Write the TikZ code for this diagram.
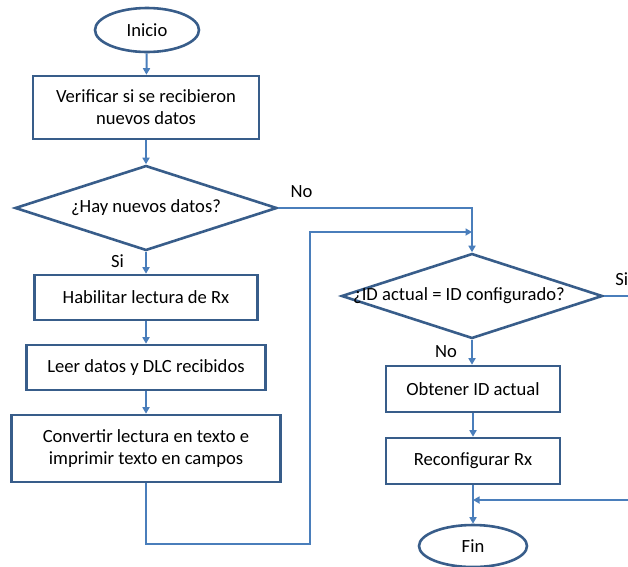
\documentclass[tikz,border=0pt]{standalone}
\usepackage{fontspec}
\setmainfont{Carlito}
\usetikzlibrary{shapes.geometric,arrows.meta}
\definecolor{bord}{HTML}{385D8A}
\definecolor{conn}{HTML}{4A7EBB}
\tikzset{
  every node/.style={font=\fontsize{18.6}{22}\selectfont, text=black},
  box/.style={draw=bord, line width=2.6pt, rectangle, align=center, inner sep=0pt},
  term/.style={draw=bord, line width=2.6pt, ellipse, inner sep=0pt},
  dec/.style={draw=bord, line width=2.6pt, diamond, inner sep=0pt, minimum width=262pt, minimum height=85pt, aspect=3.08},
  cline/.style={draw=conn, line width=2pt},
  carrow/.style={cline, -{Triangle[width=7pt,length=6.5pt]}},
  lbl/.style={inner sep=0pt}
}
\begin{document}
\begin{tikzpicture}[x=1pt,y=-1pt]
\path[clip] (0,0) rectangle (628,566);
% left column
\node[term, minimum width=104pt, minimum height=44pt] (inicio) at (147,30) {Inicio};
\node[box, minimum width=226pt, minimum height=63pt] (b1) at (146,107.5) {Verificar si se recibieron\\nuevos datos};
\node[dec] (d1) at (146,208) {¿Hay nuevos datos?};
\node[box, minimum width=223pt, minimum height=45pt] (b2) at (146,297.5) {Habilitar lectura de Rx};
\node[box, minimum width=239pt, minimum height=45pt] (b3) at (146,367.5) {Leer datos y DLC recibidos};
\node[box, minimum width=269pt, minimum height=67pt] (b4) at (146,448.5) {Convertir lectura en texto e\\imprimir texto en campos};
% right column
\node[dec, minimum width=261pt] (d2) at (472,296) {\makebox[0pt]{\hspace*{-26pt}¿ID actual = ID configurado?}};
\node[box, minimum width=174pt, minimum height=46pt] (b5) at (473,389) {Obtener ID actual};
\node[box, minimum width=174pt, minimum height=46pt] (b6) at (473,461) {Reconfigurar Rx};
\node[term, minimum width=108pt, minimum height=42pt] (fin) at (473,546) {Fin};
\coordinate (j1) at (472,232);
\coordinate (j2) at (473,500);
% connectors
\draw[carrow] (inicio) -- (b1);
\draw[carrow] (b1) -- (d1);
\draw[carrow] (d1) -- node[lbl, pos=0.45, left=21pt] {Si} (b2);
\draw[carrow] (b2) -- (b3);
\draw[carrow] (b3) -- (b4);
\draw[carrow] (d1.east) -- node[lbl, pos=0.12, above=9pt] {No} (472,208) -- (d2.north);
\draw[carrow] (b4.south) -- ++(0,60.5) -- ++(164,0) |- (j1);
\draw[carrow] (d2.south) -- node[lbl, pos=0.47, left=14pt] {No} (d2.south |- b5.north);
\draw[carrow] (b5) -- (b6);
\draw[carrow] (b6) -- (fin);
\draw[carrow] (d2.east) -- node[lbl, pos=0.45, above=9pt] {Si} ++(40,0) |- (j2);
\end{tikzpicture}
\end{document}
